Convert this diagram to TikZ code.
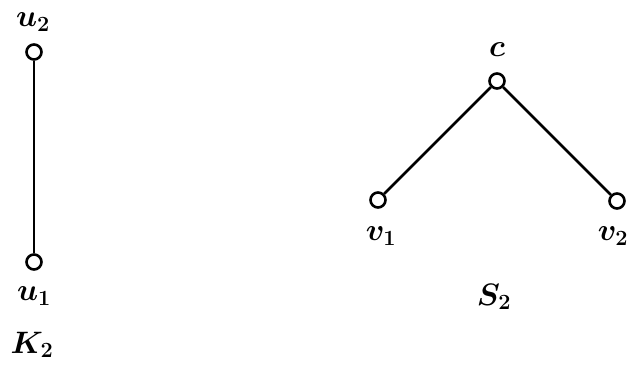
\RequirePackage{fix-cm}
\documentclass[tikz,border=0pt]{standalone}
\usepackage{amsmath}
\begin{document}
\begin{tikzpicture}[x=1pt,y=1pt,
  vtx/.style={circle,draw,line width=2.6pt,fill=white,inner sep=0pt,minimum size=15pt},
  edge/.style={line width=2.5pt},
  lbl/.style={inner sep=0pt,font=\fontsize{31}{37}\selectfont}]
\useasboundingbox (0,0) rectangle (630,367);
\node[vtx] (u2) at (34,315) {};
\node[vtx] (u1) at (34,105) {};
\node[vtx] (c) at (497,286) {};
\node[vtx] (v1) at (378,167) {};
\node[vtx] (v2) at (617,166) {};
\draw[edge] (u2) -- (u1);
\draw[edge] (c) -- (v1);
\draw[edge] (c) -- (v2);
\node[lbl] (lu2) at (33,345) {$\boldsymbol{u_2}$};
\node[lbl] (lu1) at (34,71) {$\boldsymbol{u_1}$};
\node[lbl] (lk2) at (32,22) {$\boldsymbol{K_2}$};
\node[lbl] (lc) at (497,317) {$\boldsymbol{c}$};
\node[lbl] (lv1) at (381,131) {$\boldsymbol{v_1}$};
\node[lbl] (lv2) at (613,131) {$\boldsymbol{v_2}$};
\node[lbl] (ls2) at (494,70) {$\boldsymbol{S_2}$};
\end{tikzpicture}
\end{document}
